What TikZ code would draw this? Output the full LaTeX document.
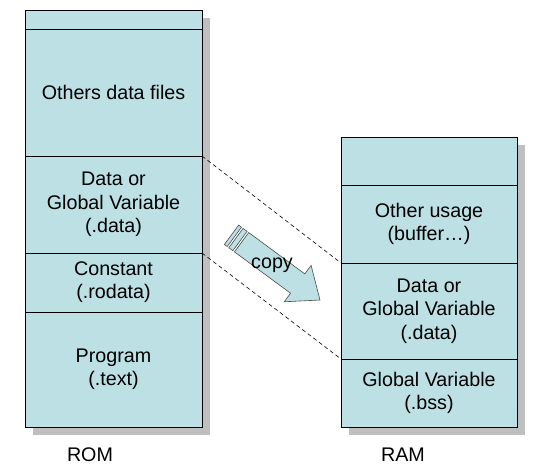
\documentclass[tikz,border=0pt]{standalone}
\usepackage{fontspec}
\setmainfont{Liberation Sans}
\usetikzlibrary{positioning,calc,backgrounds}
\definecolor{casebleu}{RGB}{188,224,228}
\definecolor{ombre}{RGB}{191,191,191}

\begin{document}
\begin{tikzpicture}[x=1pt,y=-1pt]
%x et y en pixels de l'image, y vers le bas
\tikzset{case/.style={draw=black,line width=0.8pt,fill=casebleu,inner sep=0pt,outer sep=0pt,align=center,font=\fontsize{19.7}{23.3}\selectfont}} %définition d'une case mémoire
\tikzset{lien/.style={black,line width=0.6pt,dash pattern=on 4pt off 3pt}}
\tikzset{fleche/.style={draw=black!70,line width=0.6pt,fill=casebleu}}

\useasboundingbox (0,0) rectangle (540,470);

%ROM
\node[case,minimum width=177pt,minimum height=19pt] (romhaut) at (113.5,19.5) {};
\node[case,minimum width=177pt,minimum height=127pt] (romautres) at (113.5,92.5) {Others data files};
\node[case,minimum width=177pt,minimum height=97pt] (romdata) at (113.5,204.5) {Data or\\Global Variable\\(.data)};
\node[case,minimum width=177pt,minimum height=59pt] (romconst) at (113.5,282.5) {Constant\\(.rodata)};
\node[case,minimum width=177pt,minimum height=115pt] (romprog) at (113.5,369.5) {Program\\(.text)};

%RAM
\node[case,minimum width=176pt,minimum height=48pt] (ramhaut) at (429,161) {};
\node[case,minimum width=176pt,minimum height=78pt] (ramautres) at (429,224) {Other usage\\(buffer…)};
\node[case,minimum width=176pt,minimum height=96pt] (ramdata) at (429,311) {Data or\\Global Variable\\(.data)};
\node[case,minimum width=176pt,minimum height=68pt] (rambss) at (429,393) {Global Variable\\(.bss)};

\begin{scope}[on background layer]
\fill[ombre] ($(romhaut.north west)+(8,8)$) rectangle ($(romprog.south east)+(8,8)$);
\fill[ombre] ($(ramhaut.north west)+(8,8)$) rectangle ($(rambss.south east)+(8,8)$);
\end{scope}

\node[anchor=base,font=\fontsize{19.7}{23}\selectfont] (romnom) at (90,461) {ROM};
\node[anchor=base,font=\fontsize{19.7}{23}\selectfont] (ramnom) at (403,461) {RAM};

\draw[lien] (romdata.north east) -- (ramdata.north west);
\draw[lien] (romconst.north east) -- (rambss.north west);

%flèche de copie
\begin{scope}[shift={(244,244)},rotate=-36.4]
\draw[fleche] (-15.5,-12) rectangle (-12,12);
\draw[fleche] (-10,-12) rectangle (-5,12);
\draw[fleche] (-3,-12) -- (66.7,-12) -- (66.7,-22.6) -- (94.4,0) -- (66.7,22.6) -- (66.7,12) -- (-3,12) -- cycle;
\end{scope}
\node[anchor=base,font=\fontsize{19.7}{23}\selectfont] (copie) at (272,268.3) {copy};
\end{tikzpicture}
\end{document}
